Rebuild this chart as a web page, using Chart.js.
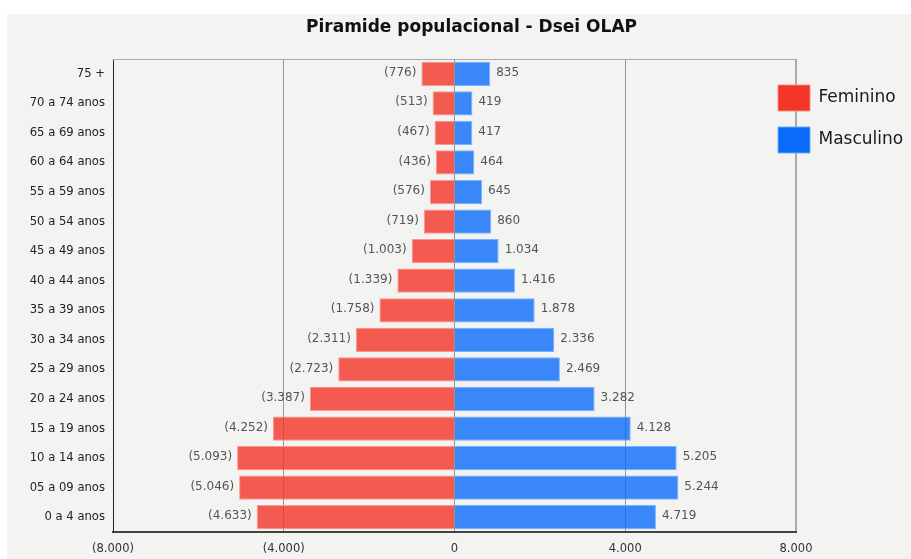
<!DOCTYPE html>
<html>
<head>
<meta charset="utf-8">
<script src="https://cdn.jsdelivr.net/npm/chart.js@4/dist/chart.umd.min.js"></script>
<style>
html,body{margin:0;padding:0;background:#ffffff;}
canvas{display:block;}
</style>
</head>
<body>
<canvas id="c" width="911" height="559"></canvas>
<script>
// ---- data ----
const categories = ["75 +","70 a 74 anos","65 a 69 anos","60 a 64 anos","55 a 59 anos","50 a 54 anos","45 a 49 anos","40 a 44 anos","35 a 39 anos","30 a 34 anos","25 a 29 anos","20 a 24 anos","15 a 19 anos","10 a 14 anos","05 a 09 anos","0 a 4 anos"];
const feminino = [776,513,467,436,576,719,1003,1339,1758,2311,2723,3387,4252,5093,5046,4633];
const masculino = [835,419,417,464,645,860,1034,1416,1878,2336,2469,3282,4128,5205,5244,4719];
const xTicks = [-8000,-4000,0,4000,8000];
const seriesNames = ["Feminino","Masculino"];
const chartTitle = "Piramide populacional - Dsei OLAP";

// ---- styles ----
const FONT = "'DejaVu Sans', Verdana, sans-serif";
const solid = ["#f33527", "#0a6cfa"];
const fills = ["rgba(243,53,39,0.8)", "rgba(10,108,250,0.8)"];
const edges = ["rgba(255,140,130,0.9)", "rgba(110,170,255,0.9)"];

function fmt(v){
  const s = String(Math.abs(v)).replace(/\B(?=(\d{3})+(?!\d))/g, '.');
  return v < 0 ? '(' + s + ')' : s;
}

const bgPlugin = {
  id: 'bg',
  beforeDraw(chart){
    const c = chart.ctx;
    c.save();
    c.fillStyle = '#f3f3f2';
    c.fillRect(7, 14, chart.width - 7, chart.height - 14);
    c.restore();
  }
};

const framePlugin = {
  id: 'frame',
  beforeDatasetsDraw(chart){
    const {ctx, chartArea: a} = chart;
    ctx.save();
    ctx.strokeStyle = '#ababab';
    ctx.lineWidth = 1;
    ctx.beginPath();
    ctx.moveTo(a.left, a.top + 0.5);
    ctx.lineTo(a.right, a.top + 0.5);
    ctx.stroke();
    ctx.restore();
  }
};

const placePlugin = {
  id: 'place',
  afterLayout(chart){
    const lg = chart.legend;
    if (lg) {
      const h = lg.height;
      lg.left = 762; lg.right = chart.width; lg.width = chart.width - 762;
      lg.top = 69; lg.bottom = 69 + h;
    }
    const tb = chart.titleBlock;
    if (tb) { tb.left += 16; tb.right += 16; }
  }
};

const valuePlugin = {
  id: 'vals',
  afterDatasetsDraw(chart){
    const ctx = chart.ctx;
    ctx.save();
    ctx.font = "12px " + FONT;
    ctx.fillStyle = '#555555';
    ctx.textBaseline = 'middle';
    chart.data.datasets.forEach((ds, i) => {
      const meta = chart.getDatasetMeta(i);
      meta.data.forEach((el, j) => {
        const v = ds.data[j];
        if (v < 0) { ctx.textAlign = 'right'; ctx.fillText(fmt(v), el.x - 5, el.y - 1); }
        else { ctx.textAlign = 'left'; ctx.fillText(fmt(v), el.x + 6, el.y - 1); }
      });
    });
    ctx.restore();
  }
};

new Chart(document.getElementById('c'), {
  type: 'bar',
  data: {
    labels: categories,
    datasets: [
      { label: seriesNames[0], data: feminino.map(v => -v), backgroundColor: fills[0], borderColor: edges[0], borderWidth: 1 },
      { label: seriesNames[1], data: masculino, backgroundColor: fills[1], borderColor: edges[1], borderWidth: 1 }
    ]
  },
  options: {
    indexAxis: 'y',
    responsive: false,
    devicePixelRatio: 1,
    animation: false,
    datasets: { bar: { barPercentage: 0.82, categoryPercentage: 1 } },
    layout: { padding: 0 },
    scales: {
      x: {
        stacked: true,
        min: -8000, max: 8000,
        afterBuildTicks(scale){ scale.ticks = xTicks.map(v => ({ value: v })); },
        afterFit(scale){ scale.height = 27; },
        ticks: {
          callback: v => fmt(v),
          font: { family: FONT, size: 11.5 },
          color: '#333333',
          padding: 10,
          maxRotation: 0
        },
        grid: {
          drawTicks: false,
          color: ctx => (ctx.tick && ctx.tick.value === 8000) ? '#a9a9a9' : '#959595',
          lineWidth: ctx => (ctx.tick && ctx.tick.value === 8000) ? 2 : 1
        },
        border: { display: true, color: '#444444', width: 2 }
      },
      y: {
        stacked: true,
        afterFit(scale){ scale.width = 113; },
        ticks: {
          font: { family: FONT, size: 11.6 },
          color: '#222222',
          padding: 8,
          autoSkip: false
        },
        grid: { display: false, drawTicks: false },
        border: { display: true, color: '#222222', width: 1 }
      }
    },
    plugins: {
      title: {
        display: true,
        text: chartTitle,
        font: { family: FONT, size: 17, weight: 'bold' },
        color: '#111111',
        padding: { top: 17, bottom: 21.6 }
      },
      legend: {
        position: 'right',
        align: 'start',
        maxWidth: 115,
        labels: {
          boxWidth: 32,
          boxHeight: 26,
          padding: 16,
          color: '#1a1a1a',
          font: { family: FONT, size: 17 },
          generateLabels(chart){
            const items = Chart.defaults.plugins.legend.labels.generateLabels(chart);
            items.forEach((it, i) => { it.fillStyle = solid[i]; it.strokeStyle = edges[i]; it.lineWidth = 1; });
            return items;
          }
        }
      },
      tooltip: { enabled: false }
    }
  },
  plugins: [bgPlugin, framePlugin, placePlugin, valuePlugin]
});
</script>
</body>
</html>
